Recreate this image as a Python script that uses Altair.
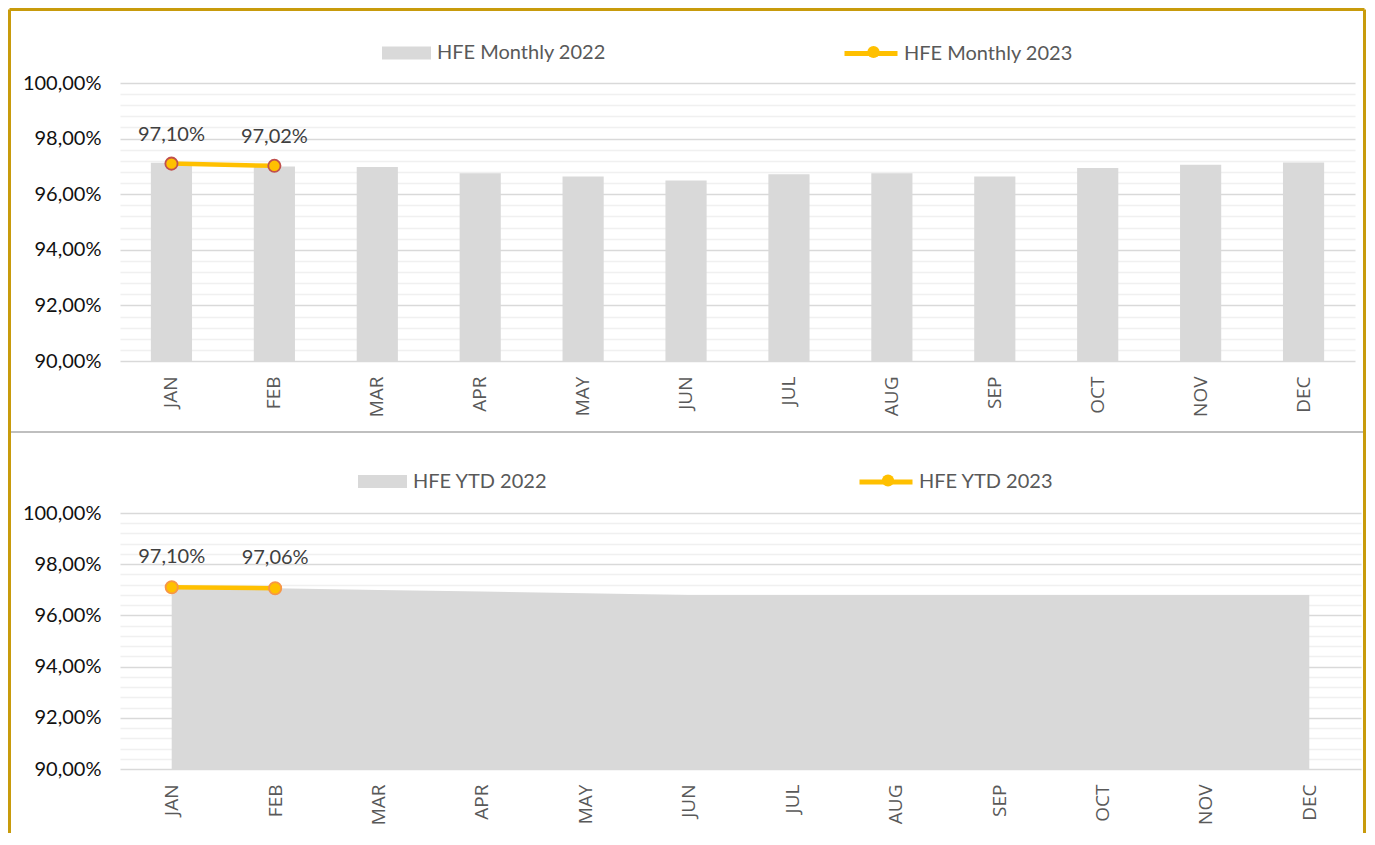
import altair as alt
import pandas as pd

# ---- data ----
months = ["JAN", "FEB", "MAR", "APR", "MAY", "JUN", "JUL", "AUG", "SEP", "OCT", "NOV", "DEC"]
monthly_2022 = [97.13, 97.00, 96.98, 96.75, 96.64, 96.49, 96.72, 96.75, 96.64, 96.94, 97.06, 97.14]
monthly_2023 = [97.10, 97.02]
ytd_2022 = [97.12, 97.06, 96.99, 96.93, 96.87, 96.80, 96.80, 96.80, 96.80, 96.80, 96.80, 96.80]
ytd_2023 = [97.10, 97.06]

series_m22 = "HFE Monthly 2022"
series_m23 = "HFE Monthly 2023"
series_y22 = "HFE YTD 2022"
series_y23 = "HFE YTD 2023"

y_ticks = [round(90 + 0.4 * i, 1) for i in range(26)]

FRAME = "#c89b0c"
YELLOW = "#ffc000"
GRAY = "#d9d9d9"

df_m22 = pd.DataFrame({"month": months, "v": monthly_2022, "k": series_m22})
df_m23 = pd.DataFrame({"month": months[:2], "v": monthly_2023, "k": series_m23, "kp": "p23m"})
df_y22 = pd.DataFrame({"month": months, "v": ytd_2022, "k": series_y22})
df_y23 = pd.DataFrame({"month": months[:2], "v": ytd_2023, "k": series_y23, "kp": "p23y"})

LABEL_EXPR = "round(datum.value*10) % 20 == 0 ? replace(format(datum.value, '.2f'), '.', ',') + '%' : ''"


def y_enc():
    return alt.Y(
        "v:Q",
        scale=alt.Scale(domain=[90, 100], nice=False, zero=False),
        axis=alt.Axis(
            values=y_ticks,
            tickCount=40,
            grid=True,
            gridColor={"condition": {"test": "round(datum.value*10) % 20 == 0", "value": "#d9d9d9"}, "value": "#f0f0f0"},
            gridWidth=1.6,
            domain=False,
            ticks=False,
            labelExpr=LABEL_EXPR,
            labelFont="Lato",
            labelFontSize=20,
            labelColor="#111111",
            labelPadding=19,
            labelOverlap=False,
            labelFlush=False,
            title=None,
        ),
    )


def x_axis():
    return alt.Axis(
        labelAngle=-90,
        labelFont="Open Sans",
        labelFontSize=19,
        labelColor="#595959",
        labelPadding=15,
        labelAlign="right",
        labelBaseline="middle",
        domain=False,
        ticks=False,
        grid=False,
        title=None,
    )


def rect_legend(x, y):
    return alt.Legend(
        orient="none", legendX=x, legendY=y, title=None, padding=0,
        symbolType="M-1,-0.265H1V0.265H-1Z", symbolSize=2401, symbolStrokeWidth=0,
        labelFont="Lato", labelFontSize=20, labelColor="#595959", labelOffset=6, labelLimit=400,
    )


def line_legend(x, y):
    return alt.Legend(
        orient="none", legendX=x, legendY=y, title=None, padding=0,
        symbolType="stroke", symbolSize=2809, symbolStrokeWidth=5,
        labelFont="Lato", labelFontSize=20, labelColor="#595959", labelOffset=4, labelLimit=400,
    )


def dot_legend(x, y, stroke):
    return alt.Legend(
        orient="none", legendX=x, legendY=y, title=None, padding=0,
        symbolType="circle", symbolSize=150, symbolFillColor=YELLOW,
        symbolStrokeColor=stroke, symbolStrokeWidth=1.8, labelExpr="''",
    )


def frame_layers():
    one = alt.Data(values=[{}])
    top = alt.Chart(one).mark_rule(color=FRAME, strokeWidth=3).encode(
        x=alt.value(-110.5), x2=alt.value(1244.5), y=alt.value(-73.5))
    left = alt.Chart(one).mark_rule(color=FRAME, strokeWidth=3).encode(
        x=alt.value(-110.5), y=alt.value(-73.5), y2=alt.value(750))
    right = alt.Chart(one).mark_rule(color=FRAME, strokeWidth=3).encode(
        x=alt.value(1244.5), y=alt.value(-73.5), y2=alt.value(750))
    sep = alt.Chart(one).mark_rule(color="#bfbfbf", strokeWidth=2).encode(
        x=alt.value(-109), x2=alt.value(1243), y=alt.value(349))
    return [top, left, right, sep]


# ---------- top chart: monthly ----------
x_band = alt.X("month:N", scale=alt.Scale(domain=months, paddingInner=0.6, paddingOuter=0.3), axis=x_axis())

bars = alt.Chart(df_m22).mark_bar().encode(
    x=x_band,
    y=y_enc(),
    y2=alt.Y2(datum=90),
    fill=alt.Fill("k:N", scale=alt.Scale(domain=[series_m22], range=[GRAY]), legend=rect_legend(262, -54.5)),
)
line_m = alt.Chart(df_m23).mark_line(strokeWidth=4.5).encode(
    x=x_band, y="v:Q",
    color=alt.Color("k:N", scale=alt.Scale(domain=[series_m23], range=[YELLOW]), legend=line_legend(722, -58.5)),
)
pts_m = alt.Chart(df_m23).mark_point(filled=True, fill=YELLOW, stroke="#c0504d", strokeWidth=1.8, size=150, opacity=1).encode(
    x=x_band, y="v:Q",
    shape=alt.Shape("kp:N", scale=alt.Scale(domain=["p23m"], range=["circle"]), legend=dot_legend(746, -38.5, "#c0504d")),
)
lbl_m = alt.Chart(df_m23).mark_text(dy=-29, font="Lato", fontSize=20, color="#404040").transform_calculate(
    lbl="replace(format(datum.v, '.2f'), '.', ',') + '%'"
).encode(x=x_band, y="v:Q", text="lbl:N")

top_chart = alt.layer(bars, line_m, pts_m, lbl_m, *frame_layers()).resolve_scale(
    fill="independent", color="independent", shape="independent"
).properties(width=1235, height=278)

# ---------- bottom chart: YTD ----------
x_pt = alt.X("month:N", scale=alt.Scale(type="point", domain=months, padding=0.5), axis=x_axis())

area = alt.Chart(df_y22).mark_area(opacity=1).encode(
    x=x_pt,
    y=y_enc(),
    y2=alt.Y2(datum=90),
    fill=alt.Fill("k:N", scale=alt.Scale(domain=[series_y22], range=[GRAY]), legend=rect_legend(238, -56)),
)
line_y = alt.Chart(df_y23).mark_line(strokeWidth=4.5).encode(
    x=x_pt, y="v:Q",
    color=alt.Color("k:N", scale=alt.Scale(domain=[series_y23], range=[YELLOW]), legend=line_legend(737, -60)),
)
pts_y = alt.Chart(df_y23).mark_point(filled=True, fill=YELLOW, stroke="#f79646", strokeWidth=1.8, size=150, opacity=1).encode(
    x=x_pt, y="v:Q",
    shape=alt.Shape("kp:N", scale=alt.Scale(domain=["p23y"], range=["circle"]), legend=dot_legend(760.5, -40, "#f79646")),
)
lbl_y = alt.Chart(df_y23).mark_text(dy=-30, font="Lato", fontSize=20, color="#404040").transform_calculate(
    lbl="replace(format(datum.v, '.2f'), '.', ',') + '%'"
).encode(x=x_pt, y="v:Q", text="lbl:N")

bottom_chart = alt.layer(area, line_y, pts_y, lbl_y).resolve_scale(
    fill="independent", color="independent", shape="independent"
).properties(width=1241, height=256)

chart = alt.vconcat(top_chart, bottom_chart, spacing=152, bounds="flush").properties(
    padding={"left": 0, "top": 0, "right": 0, "bottom": 0},
    background="white",
).configure_view(stroke=None)

chart.save("out.html", embed_options={"renderer": "svg", "actions": False})
